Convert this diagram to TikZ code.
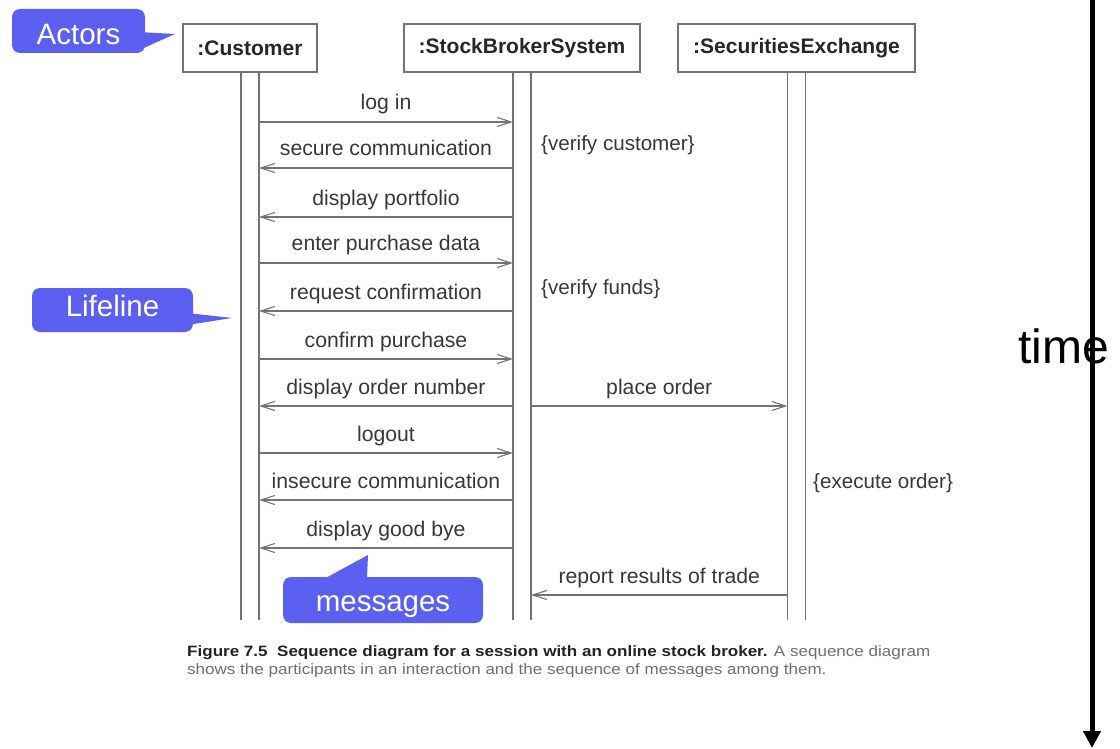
\documentclass[tikz,border=0pt]{standalone}
\usepackage{fontspec}
\setmainfont{Liberation Sans}
\usetikzlibrary{arrows.meta,calc}
\definecolor{bub}{RGB}{92,96,240}
\definecolor{ln}{RGB}{115,115,115}
\definecolor{tx}{RGB}{55,55,55}
\definecolor{capb}{RGB}{35,35,35}
\definecolor{capg}{RGB}{110,110,110}
\begin{document}
\begin{tikzpicture}[x=1pt,y=-1pt,
  hdr/.style={draw=ln, line width=1.6pt, minimum height=48pt, font=\fontsize{21}{24}\selectfont\bfseries, text=black!85, inner sep=0pt},
  life/.style={draw=ln, line width=1.4pt},
  msg/.style={draw=ln, line width=1.3pt, -{Straight Barb[length=14pt,width=9pt,line width=1.1pt]}},
  lab/.style={font=\fontsize{21.2}{24}\selectfont, text=tx, anchor=base, yshift=12pt, inner sep=0pt},
  note/.style={font=\fontsize{20.6}{24}\selectfont, text=tx, anchor=west, inner sep=0pt},
  bubble/.style={fill=bub, rounded corners=8pt, text=white, font=\fontsize{29.5}{32}\selectfont, inner sep=0pt},
]
\useasboundingbox (0,0) rectangle (1120,749);
% headers
\node[hdr, minimum width=134pt] (c) at (250,48) {:Customer};
\node[hdr, minimum width=236pt] (s) at (522,48) {:StockBrokerSystem};
\node[hdr, minimum width=237pt] (e) at (796.5,48) {:SecuritiesExchange};
\coordinate (bot) at (0,620);
\foreach \n in {c,s,e}{
  \coordinate (\n-L) at ($(\n.south)+(-9,0)$);
  \coordinate (\n-R) at ($(\n.south)+(9,0)$);
  \draw[life] (\n-L) -- (\n-L |- bot);
  \draw[life] (\n-R) -- (\n-R |- bot);
}
% message rows
\coordinate (y1) at (0,122);
\coordinate (y2) at (0,168);
\coordinate (y3) at (0,217);
\coordinate (y4) at (0,263);
\coordinate (y5) at (0,311);
\coordinate (y6) at (0,359);
\coordinate (y7) at (0,406);
\coordinate (y8) at (0,453);
\coordinate (y9) at (0,500);
\coordinate (y10) at (0,548);
\coordinate (y11) at (0,595);
\draw[msg] (y1 -| c-R) -- (y1 -| s-L) node[lab, midway] {log in};
\draw[msg] (y2 -| s-L) -- (y2 -| c-R) node[lab, midway] {secure communication};
\draw[msg] (y3 -| s-L) -- (y3 -| c-R) node[lab, midway] {display portfolio};
\draw[msg] (y4 -| c-R) -- (y4 -| s-L) node[lab, midway] {enter purchase data};
\draw[msg] (y5 -| s-L) -- (y5 -| c-R) node[lab, midway] {request confirmation};
\draw[msg] (y6 -| c-R) -- (y6 -| s-L) node[lab, midway] {confirm purchase};
\draw[msg] (y7 -| s-L) -- (y7 -| c-R) node[lab, midway] {display order number};
\draw[msg] (y7 -| s-R) -- (y7 -| e-L) node[lab, midway] {place order};
\draw[msg] (y8 -| c-R) -- (y8 -| s-L) node[lab, midway] {logout};
\draw[msg] (y9 -| s-L) -- (y9 -| c-R) node[lab, midway] {insecure communication};
\draw[msg] (y10 -| s-L) -- (y10 -| c-R) node[lab, midway] {display good bye};
\draw[msg] (y11 -| e-L) -- (y11 -| s-R) node[lab, midway] {report results of trade};
% notes
\node[note] (n1) at (541,145) {\{verify customer\}};
\node[note] (n2) at (541,289) {\{verify funds\}};
\node[note] (n3) at (813,483) {\{execute order\}};
% callouts
\node[bubble, minimum width=133pt, minimum height=44pt] (act) at (78.5,31) {\raisebox{-14pt}[0pt][0pt]{Actors}};
\fill[bub] ($(act.east)+(-6,1)$) -- (175,34) -- ($(act.east)+(-6,19)$) -- cycle;
\node[bubble, minimum width=161pt, minimum height=44pt] (lif) at (112.5,310) {\raisebox{-6.5pt}[0pt][0pt]{Lifeline}};
\fill[bub] ($(lif.east)+(-6,3)$) -- (232,318) -- ($(lif.east)+(-6,15)$) -- cycle;
\node[bubble, minimum width=200pt, minimum height=46pt] (mes) at (383,600) {\raisebox{-11pt}[0pt][0pt]{messages}};
\fill[bub] ($(mes.north west)+(34,6)$) -- (368,555) -- ($(mes.north west)+(84,6)$) -- cycle;
% caption
\node[anchor=base west, inner sep=0pt, font=\fontsize{15}{18}\selectfont, text=capb] (cap1) at (187,656)
  {\scalebox{1.136}[1]{\textbf{Figure 7.5\ \ Sequence diagram for a session with an online stock broker.} \textcolor{capg}{A sequence diagram}}};
\node[anchor=base west, inner sep=0pt, font=\fontsize{15}{18}\selectfont, text=capg] (cap2) at (187,674)
  {\scalebox{1.136}[1]{shows the participants in an interaction and the sequence of messages among them.}};
% time axis
\coordinate (t0) at (1092,0);
\coordinate (t1) at (1092,748);
\draw[line width=5pt, -{Triangle[length=17pt,width=17pt]}] (t0) -- (t1);
\node[anchor=base west, inner sep=0pt, font=\fontsize{48}{52}\selectfont] (time) at (1018,363) {time};
\end{tikzpicture}
\end{document}
